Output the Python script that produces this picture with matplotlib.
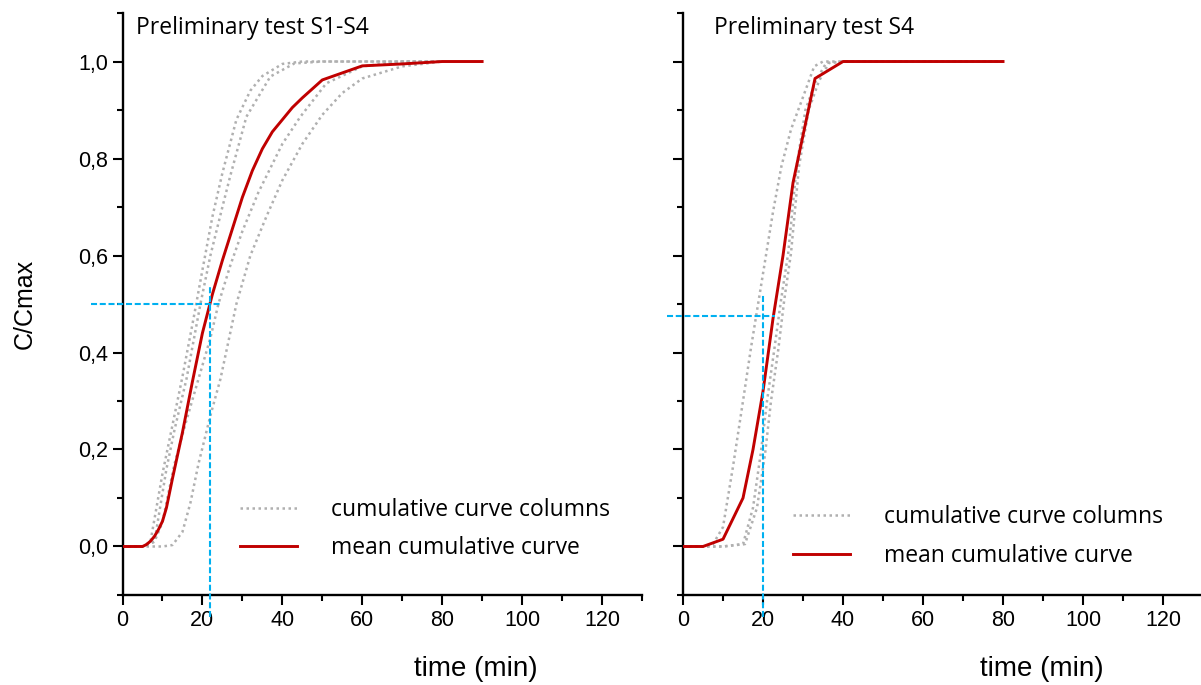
import matplotlib
matplotlib.use("Agg")
import matplotlib.pyplot as plt
from matplotlib.ticker import MultipleLocator, FuncFormatter

# ---- left panel: preliminary test S1-S4 ----
left_mean_x = [0, 5, 6, 7, 8, 9, 10, 11, 12.5, 15, 17.5, 20, 22.5, 25, 27.5, 30, 32.5, 35, 37.5, 40, 42.5, 45, 50, 60, 70, 80, 90]
left_mean_y = [0, 0.0, 0.004, 0.011, 0.021, 0.035, 0.052, 0.08, 0.14, 0.235, 0.34, 0.44, 0.52, 0.59, 0.655, 0.72, 0.775, 0.82, 0.855, 0.88, 0.905, 0.925, 0.962, 0.991, 0.995, 1.0, 1.0]

left_cols = [
    ([0, 5, 7, 10, 15, 18, 20, 22.5, 25, 28.5, 32, 35, 40, 45, 50, 60, 70, 80],
     [0, 0, 0.01, 0.15, 0.35, 0.48, 0.57, 0.68, 0.77, 0.88, 0.94, 0.97, 0.995, 1, 1, 1, 1, 1]),
    ([0, 5, 8, 11, 13, 16, 19.5, 22, 25, 27, 31, 37, 43, 50, 60, 70, 80],
     [0, 0, 0.01, 0.16, 0.24, 0.345, 0.5, 0.6, 0.7, 0.765, 0.886, 0.969, 0.996, 1, 1, 1, 1]),
    ([0, 5, 8, 10, 13, 16, 19, 22, 24, 27, 30, 34, 40, 44.5, 51, 60, 70, 80],
     [0, 0, 0.01, 0.05, 0.17, 0.26, 0.345, 0.43, 0.5, 0.58, 0.65, 0.73, 0.83, 0.886, 0.955, 0.99, 1, 1]),
    ([0, 5, 10, 12.5, 15, 17, 19, 22, 24.5, 28.5, 32, 36, 40, 45, 50, 55, 60, 70, 80],
     [0, 0, 0, 0.003, 0.03, 0.09, 0.17, 0.27, 0.345, 0.5, 0.6, 0.68, 0.755, 0.83, 0.89, 0.935, 0.965, 0.99, 1.0]),
]
left_t50 = 22
left_c50 = 0.5

# ---- right panel: preliminary test S4 ----
right_mean_x = [0, 5, 10, 15, 17.5, 20, 22.5, 25, 27.5, 33, 40, 50, 60, 70, 80]
right_mean_y = [0, 0, 0.015, 0.10, 0.2, 0.32, 0.47, 0.6, 0.75, 0.965, 1, 1, 1, 1, 1]

right_cols = [
    ([0, 5, 7.5, 10, 12.5, 15, 17, 20.3, 22.5, 24.6, 27, 29.7, 32.8, 35, 40, 50, 60, 70, 80],
     [0, 0, 0.005, 0.04, 0.165, 0.3, 0.41, 0.578, 0.69, 0.784, 0.86, 0.92, 0.99, 1, 1, 1, 1, 1, 1]),
    ([0, 5, 10, 15, 17.5, 19.4, 21, 22.8, 24.5, 26.3, 28.4, 30.6, 33.2, 35.8, 40, 50, 60, 70, 80],
     [0, 0, 0, 0.005, 0.08, 0.19, 0.3, 0.405, 0.508, 0.605, 0.784, 0.9, 0.96, 0.997, 1, 1, 1, 1, 1]),
    ([0, 5, 10, 15.5, 18.5, 20.5, 22, 23.8, 25.3, 27, 29, 31.4, 34, 36.5, 40, 50, 60, 70, 80],
     [0, 0, 0, 0.005, 0.08, 0.19, 0.3, 0.405, 0.508, 0.605, 0.784, 0.9, 0.96, 0.997, 1, 1, 1, 1, 1]),
]
right_t50 = 20
right_c50 = 0.476

titles = ["Preliminary test S1-S4", "Preliminary test S4"]
legend_labels = ["cumulative curve columns", "mean cumulative curve"]

RED = "#c00000"
GREY = "#b0b0b0"
BLUE = "#00b0f0"
TXT_FONT = ["Open Sans", "DejaVu Sans"]
AX_FONT = ["Liberation Sans", "DejaVu Sans"]

plt.rcParams["font.family"] = AX_FONT

fig = plt.figure(figsize=(12.01, 6.85), dpi=100)
ax1 = fig.add_axes([0.102, 0.1314, 0.4325, 0.8496])
ax2 = fig.add_axes([0.5687, 0.1314, 0.4330, 0.8496])


def comma(v, pos):
    return ("%.1f" % v).replace(".", ",")


def style(ax):
    for s in ["top", "right"]:
        ax.spines[s].set_visible(False)
    for s in ["left", "bottom"]:
        ax.spines[s].set_linewidth(1.7)
    ax.set_xlim(0, 130)
    ax.set_ylim(-0.1, 1.1)
    ax.xaxis.set_major_locator(MultipleLocator(20))
    ax.xaxis.set_minor_locator(MultipleLocator(10))
    ax.yaxis.set_major_locator(MultipleLocator(0.2))
    ax.yaxis.set_minor_locator(MultipleLocator(0.1))
    ax.tick_params(which="major", direction="out", length=7, width=1.5, labelsize=15.5)
    ax.tick_params(which="minor", direction="out", length=4, width=1.5)
    ax.set_xlabel("time (min)", fontsize=20)


panels = [
    (ax1, left_cols, left_mean_x, left_mean_y, left_t50, left_c50, -8, 25, 0.54, 0.026, 0.2262, 0.1134),
    (ax2, right_cols, right_mean_x, right_mean_y, right_t50, right_c50, -4, 23, 0.52, 0.06, 0.2115, 0.1005),
]

for ax, cols, mx, my, t50, c50, hx0, hx1, vy1, tx, lgx, lgy in panels:
    style(ax)
    for i, (cx, cy) in enumerate(cols):
        ax.plot(cx, cy, color=GREY, lw=1.8, ls=(0, (1, 1.4)), zorder=2,
                label=legend_labels[0] if i == 0 else None)
    ax.plot(mx, my, color=RED, lw=2.1, zorder=3, label=legend_labels[1])
    ax.plot([hx0, hx1], [c50, c50], color=BLUE, lw=1.5, ls=(0, (2.9, 1.3)),
            clip_on=False, zorder=4)
    ax.plot([t50, t50], [-0.145, vy1], color=BLUE, lw=1.5, ls=(0, (2.9, 1.3)),
            clip_on=False, zorder=4)
    ax.text(tx, 0.975, titles[0] if ax is ax1 else titles[1], transform=ax.transAxes,
            ha="left", va="center", fontsize=16.5, family=TXT_FONT)
    ax.legend(loc="center left", bbox_to_anchor=(lgx, lgy), frameon=False,
              borderpad=0, borderaxespad=0, handlelength=2.5, handletextpad=1.45,
              labelspacing=0.62, prop={"family": TXT_FONT, "size": 16.5})
    ax.xaxis.set_label_coords(0.68 if ax is ax1 else 0.69, -0.105)

ax1.yaxis.set_major_formatter(FuncFormatter(comma))
ax1.set_ylabel("C/Cmax", fontsize=18)
ax1.yaxis.set_label_coords(-0.165, 0.5)
ax2.tick_params(axis="y", which="both", labelleft=False)

fig.savefig("out.png", dpi=100)
